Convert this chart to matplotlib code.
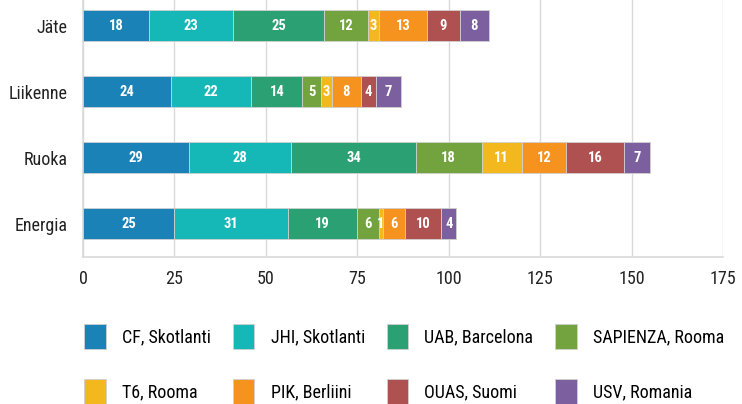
import matplotlib
matplotlib.use("Agg")
import matplotlib.pyplot as plt
import numpy as np
from matplotlib import font_manager

categories = ["Energia", "Ruoka", "Liikenne", "Jäte"]
series_names = ["CF, Skotlanti", "JHI, Skotlanti", "UAB, Barcelona", "SAPIENZA, Rooma",
                "T6, Rooma", "PIK, Berliini", "OUAS, Suomi", "USV, Romania"]
cf = [25, 29, 24, 18]
jhi = [31, 28, 22, 23]
uab = [19, 34, 14, 25]
sapienza = [6, 18, 5, 12]
t6 = [1, 11, 3, 3]
pik = [6, 12, 8, 13]
ouas = [10, 16, 4, 9]
usv = [4, 7, 7, 8]
colors = ["#1a82b6", "#16b7b7", "#2ba173", "#72a33f", "#f3b81e", "#f6921e", "#b05151", "#7c5f9f"]
xticks = [0, 25, 50, 75, 100, 125, 150, 175]

avail = {f.name for f in font_manager.fontManager.ttflist}
fam = [f for f in ["Roboto Condensed", "Liberation Sans Narrow", "Liberation Sans"] if f in avail]
plt.rcParams['font.family'] = fam + ["DejaVu Sans"]

fig = plt.figure(figsize=(7.42, 4.04), dpi=100)
ax = fig.add_axes([83/742, 147/404, 640/742, 257/404])

data = [cf, jhi, uab, sapienza, t6, pik, ouas, usv]
y = np.arange(len(categories))
left = np.zeros(len(categories))
handles = []
for name, vals, col in zip(series_names, data, colors):
    vals = np.array(vals, dtype=float)
    b = ax.barh(y, vals, left=left, height=0.47, color=col, edgecolor="#d0d0d0",
                linewidth=0.6, label=name, zorder=3)
    handles.append(b)
    for yi, l, v in zip(y, left, vals):
        ax.text(l + v / 2, yi, f"{int(v)}", ha="center", va="center", color="white",
                fontsize=10.5, fontweight="bold", zorder=4)
    left += vals

ax.set_xlim(0, 175)
ax.set_ylim(-0.5, 3.39)
ax.set_xticks(xticks)
ax.set_xticklabels([str(t) for t in xticks], fontsize=13, color="#222222")
ax.set_yticks(y)
ax.set_yticklabels(categories, fontsize=13, color="#222222")
ax.tick_params(axis="both", length=0)
ax.tick_params(axis="x", pad=9)
ax.tick_params(axis="y", pad=11)
ax.grid(axis="x", color="#d9d9d9", linewidth=1, zorder=0)
for s in ["top", "right"]:
    ax.spines[s].set_visible(False)
for s in ["bottom", "left"]:
    ax.spines[s].set_color("#d9d9d9")
    ax.spines[s].set_linewidth(1.2)

# legend filled row-wise (matplotlib fills columns first)
order = [0, 4, 1, 5, 2, 6, 3, 7]
fig.legend(handles=[handles[i] for i in order], labels=[series_names[i] for i in order],
           ncol=4, loc="lower left",
           bbox_to_anchor=(68/742, -0.04), frameon=False, fontsize=13,
           handlelength=1.2, handleheight=1.75, handletextpad=0.9,
           columnspacing=1.2, labelspacing=1.65)

fig.savefig("out.png", dpi=100)
